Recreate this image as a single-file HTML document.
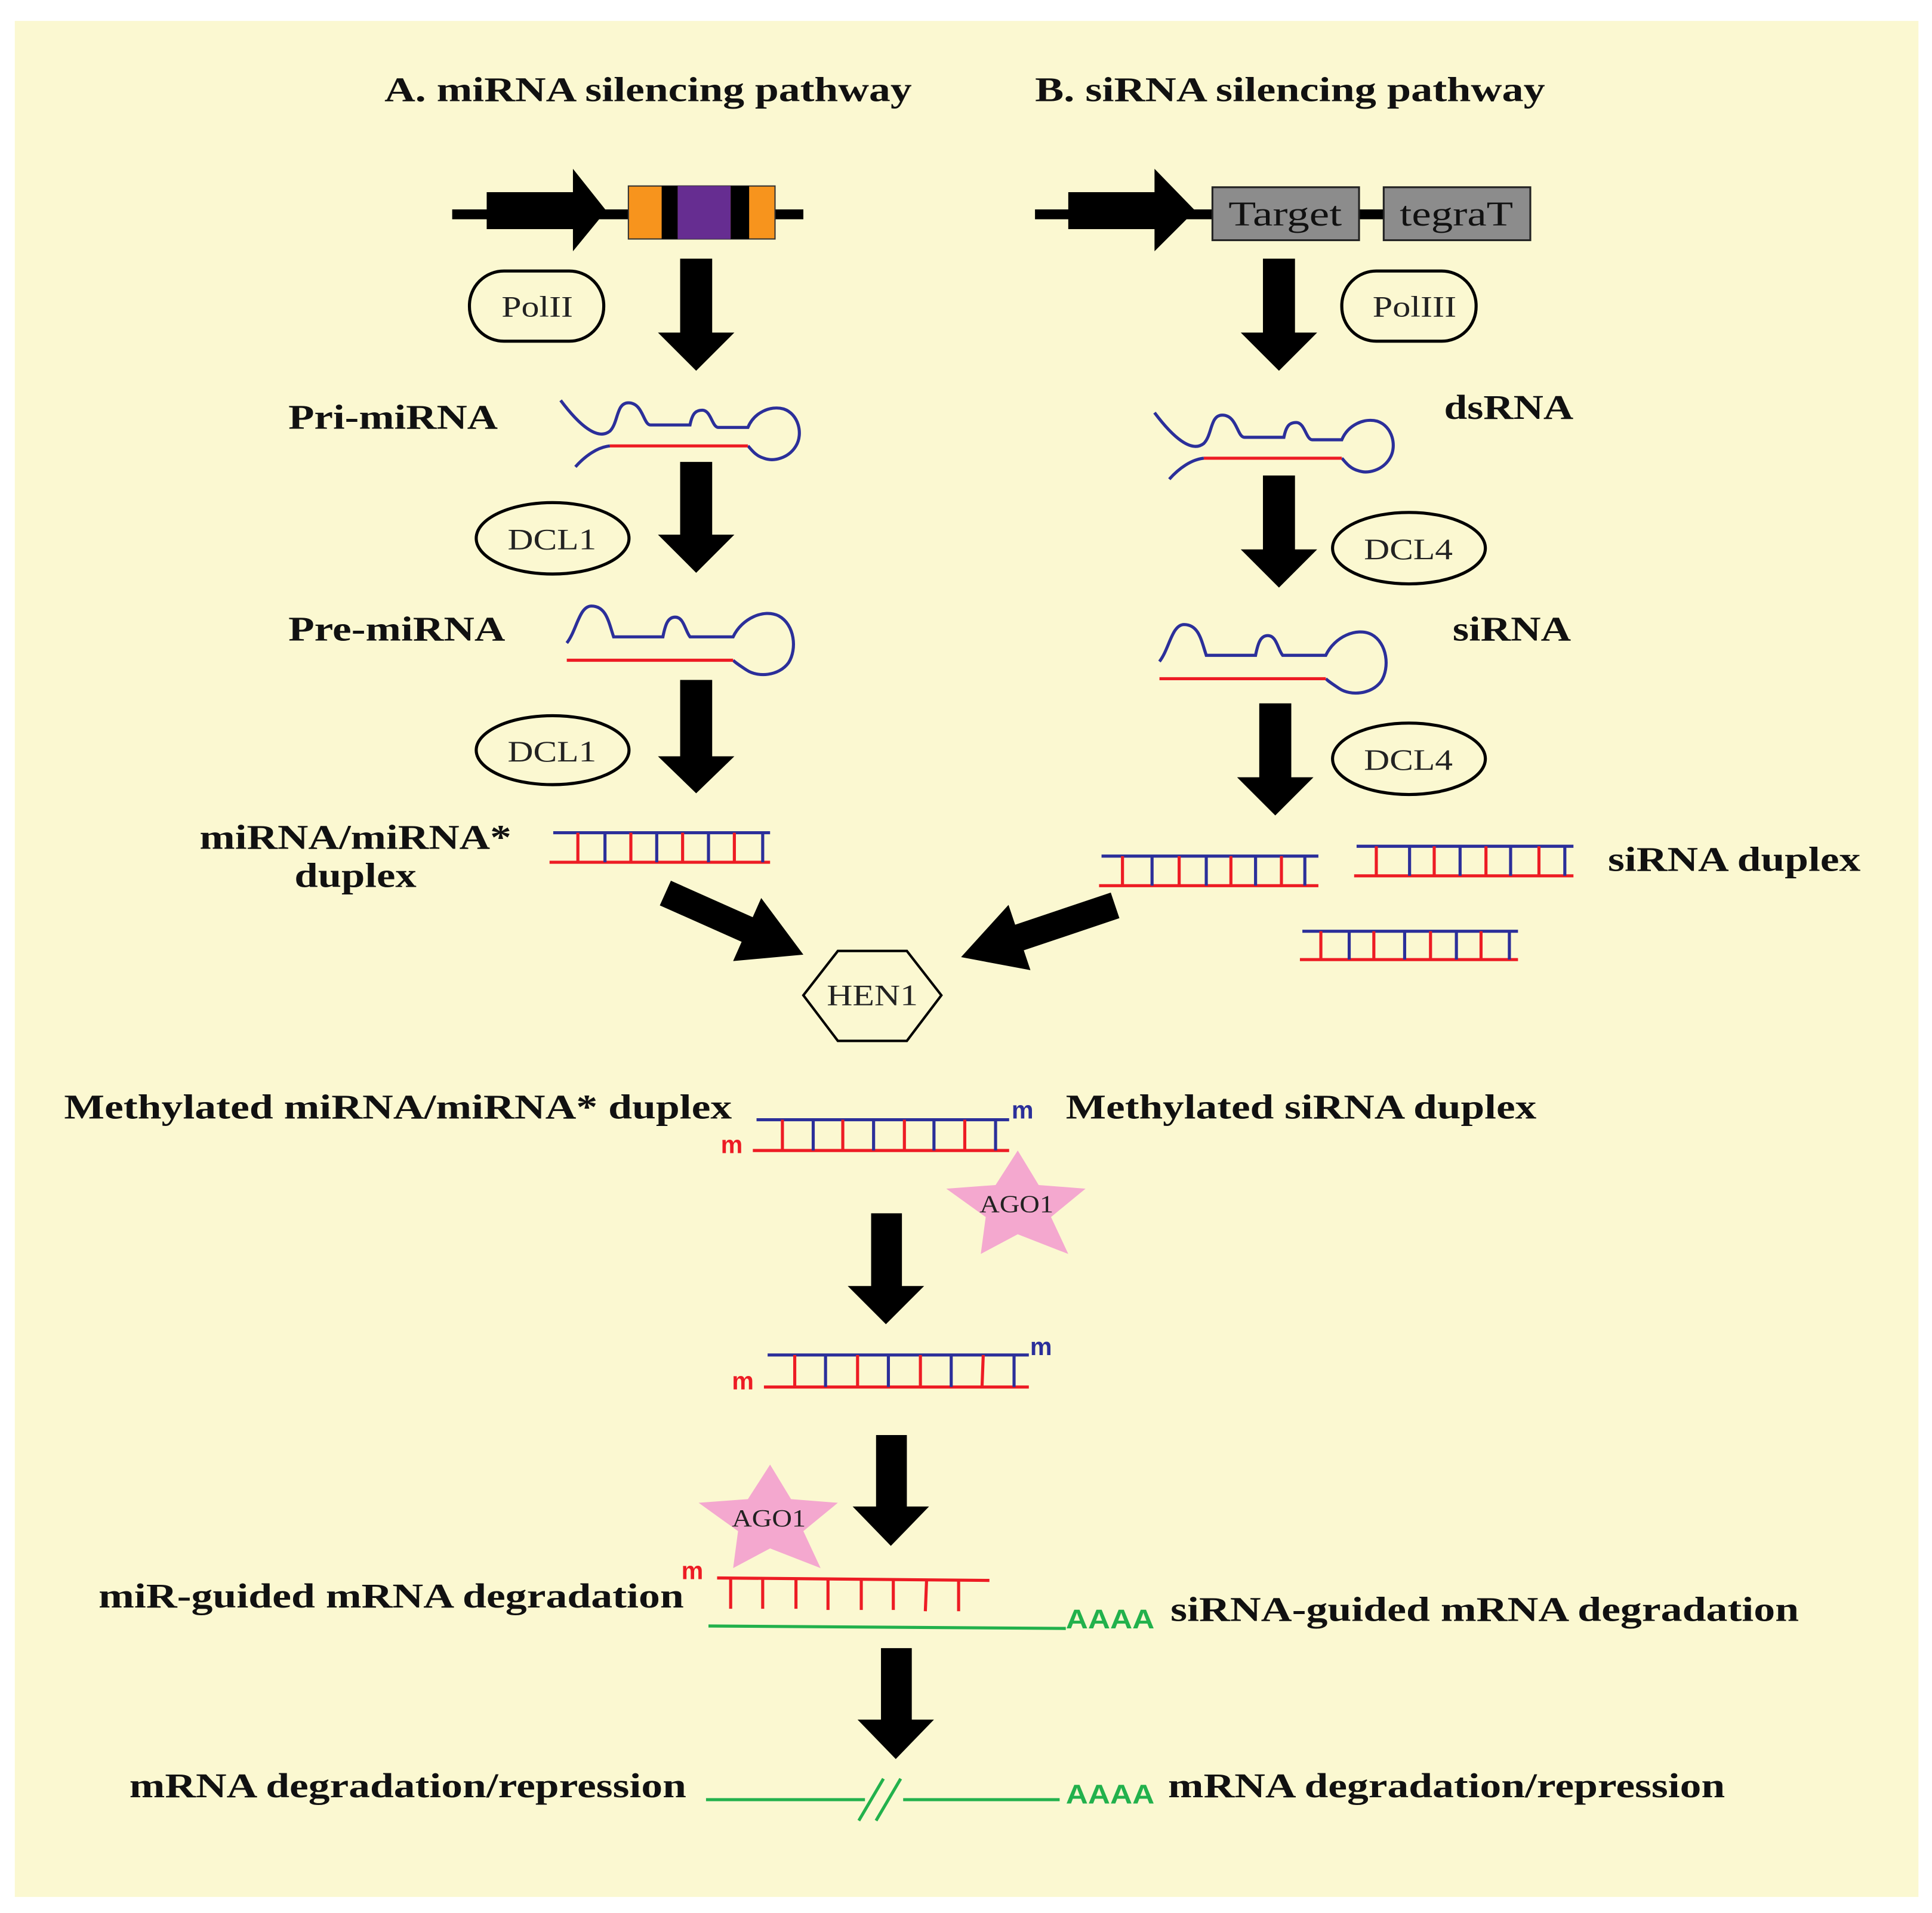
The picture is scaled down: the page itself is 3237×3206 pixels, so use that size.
<!DOCTYPE html>
<html><head><meta charset="utf-8"><style>
html,body{margin:0;padding:0;background:#fff}
svg{display:block}
text{font-family:"Liberation Serif",serif}
.b{font-weight:bold;font-size:28px;fill:#111}
.n{font-size:24px;fill:#222}
.s text{font-family:"Liberation Sans",sans-serif;font-weight:bold}
</style></head><body>
<svg width="3237" height="3206" viewBox="0 0 1568 1553" preserveAspectRatio="none" xmlns="http://www.w3.org/2000/svg">
<rect x="0" y="0" width="1568" height="1553" fill="#fff"/>
<rect x="12" y="17" width="1545" height="1523" fill="#FBF8D1"/>

<text class="b" x="312" y="82" textLength="428" lengthAdjust="spacingAndGlyphs">A. miRNA silencing pathway</text>
<text class="b" x="840" y="82" textLength="414" lengthAdjust="spacingAndGlyphs">B. siRNA silencing pathway</text>

<rect x="367" y="170" width="285" height="8" fill="#000"/>
<rect x="395" y="156" width="72" height="30" fill="#000"/>
<polygon points="465,137 492,171 465,204" fill="#000"/>
<rect x="510" y="151" width="119" height="43" fill="#F7941D" stroke="#333" stroke-width="1"/>
<rect x="537" y="151" width="13" height="43" fill="#000"/>
<rect x="550" y="151" width="43" height="43" fill="#662D91"/>
<rect x="593" y="151" width="15" height="43" fill="#000"/>

<rect x="840" y="170" width="300" height="8" fill="#000"/>
<rect x="867" y="156" width="72" height="30" fill="#000"/>
<polygon points="937,137 970,171 937,204" fill="#000"/>
<rect x="984" y="152" width="119" height="43" fill="#8C8C8C" stroke="#222" stroke-width="1.5"/>
<rect x="1123" y="152" width="119" height="43" fill="#8C8C8C" stroke="#222" stroke-width="1.5"/>
<text x="1043" y="183" font-size="28" text-anchor="middle" fill="#111" textLength="92" lengthAdjust="spacingAndGlyphs">Target</text>
<text x="1182" y="183" font-size="28" text-anchor="middle" fill="#111" textLength="92" lengthAdjust="spacingAndGlyphs">tegraT</text>

<g fill="#000">
<polygon points="552,210 578,210 578,270 596,270 565,301 534,270 552,270"/>
<polygon points="552,375 578,375 578,434 596,434 565,465 534,434 552,434"/>
<polygon points="552,552 578,552 578,614 596,614 565,644 534,614 552,614"/>
<polygon points="1025,210 1051,210 1051,270 1069,270 1038,301 1007,270 1025,270"/>
<polygon points="1025,386 1051,386 1051,446 1069,446 1038,477 1007,446 1025,446"/>
<polygon points="1022,571 1048,571 1048,631 1066,631 1035,662 1004,631 1022,631"/>
<polygon points="707,985 732,985 732,1044 750,1044 719,1075 688,1044 707,1044"/>
<polygon points="711,1165 736,1165 736,1223 754,1223 723,1255 692,1223 711,1223"/>
<polygon points="715,1338 740,1338 740,1396 758,1396 727,1428 696,1396 715,1396"/>
<polygon points="544.5,715 610.9,744.6 617.8,729 652,775 595,780.2 601.9,764.6 535.5,735"/>
<polygon points="901.5,724.6 823.9,750.7 818.5,734.6 780,777 836.3,787.6 830.9,771.5 908.5,745.4"/>
</g>

<g fill="none" stroke="#000" stroke-width="2.5">
<rect x="381" y="220" width="109" height="57" rx="28"/>
<ellipse cx="448.5" cy="437" rx="62" ry="29"/>
<ellipse cx="448.5" cy="609" rx="62" ry="28"/>
<rect x="1089" y="220" width="109" height="57" rx="28"/>
<ellipse cx="1143.5" cy="445" rx="62" ry="29"/>
<ellipse cx="1143.5" cy="616" rx="62" ry="29"/>
<polygon points="652,808 680,772 736,772 764,808 736,845 680,845" stroke-width="2"/>
</g>
<text class="n" x="436" y="257" text-anchor="middle" textLength="58" lengthAdjust="spacingAndGlyphs">PolII</text>
<text class="n" x="448" y="446" text-anchor="middle" textLength="72" lengthAdjust="spacingAndGlyphs">DCL1</text>
<text class="n" x="448" y="618" text-anchor="middle" textLength="72" lengthAdjust="spacingAndGlyphs">DCL1</text>
<text class="n" x="1148" y="257" text-anchor="middle" textLength="68" lengthAdjust="spacingAndGlyphs">PolIII</text>
<text class="n" x="1143" y="454" text-anchor="middle" textLength="72" lengthAdjust="spacingAndGlyphs">DCL4</text>
<text class="n" x="1143" y="625" text-anchor="middle" textLength="72" lengthAdjust="spacingAndGlyphs">DCL4</text>
<text class="n" x="708" y="816" text-anchor="middle" font-size="22" textLength="74" lengthAdjust="spacingAndGlyphs">HEN1</text>

<text class="b" x="234" y="348" textLength="170" lengthAdjust="spacingAndGlyphs">Pri-miRNA</text>
<text class="b" x="234" y="520" textLength="176" lengthAdjust="spacingAndGlyphs">Pre-miRNA</text>
<text class="b" x="162" y="689" textLength="253" lengthAdjust="spacingAndGlyphs">miRNA/miRNA*</text>
<text class="b" x="239" y="720" textLength="99" lengthAdjust="spacingAndGlyphs">duplex</text>
<text class="b" x="1172" y="340" textLength="105" lengthAdjust="spacingAndGlyphs">dsRNA</text>
<text class="b" x="1179" y="520" textLength="96" lengthAdjust="spacingAndGlyphs">siRNA</text>
<text class="b" x="1305" y="707" textLength="205" lengthAdjust="spacingAndGlyphs">siRNA duplex</text>
<text class="b" x="52" y="908" textLength="542" lengthAdjust="spacingAndGlyphs">Methylated miRNA/miRNA* duplex</text>
<text class="b" x="865" y="908" textLength="382" lengthAdjust="spacingAndGlyphs">Methylated siRNA duplex</text>
<text class="b" x="80" y="1305" textLength="475" lengthAdjust="spacingAndGlyphs">miR-guided mRNA degradation</text>
<text class="b" x="950" y="1316" textLength="510" lengthAdjust="spacingAndGlyphs">siRNA-guided mRNA degradation</text>
<text class="b" x="105" y="1459" textLength="452" lengthAdjust="spacingAndGlyphs">mRNA degradation/repression</text>
<text class="b" x="948" y="1459" textLength="452" lengthAdjust="spacingAndGlyphs">mRNA degradation/repression</text>

<g fill="none" stroke-width="2.5">
<path d="M455,325 C470,345 485,358 495,350 C502,343 500,327 510,327 C522,327 522,345 528,345 L560,345 C562,335 565,333 570,333 C577,333 578,347 583,347 L607,347 C612,335 625,329 636,332 C648,336 652,352 646,362 C640,372 628,375 620,372 C613,370 610,365 607,362" stroke="#2B2F9A"/>
<path d="M467,379 C475,370 485,363 495,362" stroke="#2B2F9A"/>
<path d="M495,362 L607,362" stroke="#ED1C24"/>
</g>
<g transform="translate(482,10)" fill="none" stroke-width="2.5">
<path d="M455,325 C470,345 485,358 495,350 C502,343 500,327 510,327 C522,327 522,345 528,345 L560,345 C562,335 565,333 570,333 C577,333 578,347 583,347 L607,347 C612,335 625,329 636,332 C648,336 652,352 646,362 C640,372 628,375 620,372 C613,370 610,365 607,362" stroke="#2B2F9A"/>
<path d="M467,379 C475,370 485,363 495,362" stroke="#2B2F9A"/>
<path d="M495,362 L607,362" stroke="#ED1C24"/>
</g>
<g fill="none" stroke-width="2.5">
<path d="M460,522 C468,512 470,492 480,492 C492,492 494,505 498,517 L538,517 C540,507 542,501 548,501 C555,501 556,512 560,517 L595,517 C602,502 620,494 632,500 C645,507 647,527 640,538 C632,549 615,550 606,544 C600,540 597,538 595,536" stroke="#2B2F9A"/>
<path d="M460,536 L595,536" stroke="#ED1C24"/>
</g>
<g transform="translate(481,15)" fill="none" stroke-width="2.5">
<path d="M460,522 C468,512 470,492 480,492 C492,492 494,505 498,517 L538,517 C540,507 542,501 548,501 C555,501 556,512 560,517 L595,517 C602,502 620,494 632,500 C645,507 647,527 640,538 C632,549 615,550 606,544 C600,540 597,538 595,536" stroke="#2B2F9A"/>
<path d="M460,536 L595,536" stroke="#ED1C24"/>
</g>

<g stroke-width="2.5">
<line x1="449" y1="676" x2="625" y2="676" stroke="#2B2F9A"/>
<line x1="446" y1="700" x2="625" y2="700" stroke="#ED1C24"/>
<g stroke="#ED1C24"><line x1="469" y1="676" x2="469" y2="700"/><line x1="512" y1="676" x2="512" y2="700"/><line x1="554" y1="676" x2="554" y2="700"/><line x1="596" y1="676" x2="596" y2="700"/></g>
<g stroke="#2B2F9A"><line x1="491" y1="676" x2="491" y2="700"/><line x1="533" y1="676" x2="533" y2="700"/><line x1="575" y1="676" x2="575" y2="700"/><line x1="619" y1="676" x2="619" y2="700"/></g>
<line x1="894" y1="695" x2="1070" y2="695" stroke="#2B2F9A"/>
<line x1="892" y1="719" x2="1070" y2="719" stroke="#ED1C24"/>
<g stroke="#ED1C24"><line x1="911" y1="695" x2="911" y2="719"/><line x1="957" y1="695" x2="957" y2="719"/><line x1="999" y1="695" x2="999" y2="719"/><line x1="1040" y1="695" x2="1040" y2="719"/></g>
<g stroke="#2B2F9A"><line x1="935" y1="695" x2="935" y2="719"/><line x1="979" y1="695" x2="979" y2="719"/><line x1="1019" y1="695" x2="1019" y2="719"/><line x1="1059" y1="695" x2="1059" y2="719"/></g>
<line x1="1101" y1="687" x2="1277" y2="687" stroke="#2B2F9A"/>
<line x1="1099" y1="711" x2="1277" y2="711" stroke="#ED1C24"/>
<g stroke="#ED1C24"><line x1="1117" y1="687" x2="1117" y2="711"/><line x1="1164" y1="687" x2="1164" y2="711"/><line x1="1206" y1="687" x2="1206" y2="711"/><line x1="1249" y1="687" x2="1249" y2="711"/></g>
<g stroke="#2B2F9A"><line x1="1144" y1="687" x2="1144" y2="711"/><line x1="1185" y1="687" x2="1185" y2="711"/><line x1="1226" y1="687" x2="1226" y2="711"/><line x1="1270" y1="687" x2="1270" y2="711"/></g>
<line x1="1057" y1="756" x2="1232" y2="756" stroke="#2B2F9A"/>
<line x1="1055" y1="779" x2="1232" y2="779" stroke="#ED1C24"/>
<g stroke="#ED1C24"><line x1="1072" y1="756" x2="1072" y2="779"/><line x1="1115" y1="756" x2="1115" y2="779"/><line x1="1161" y1="756" x2="1161" y2="779"/><line x1="1202" y1="756" x2="1202" y2="779"/></g>
<g stroke="#2B2F9A"><line x1="1095" y1="756" x2="1095" y2="779"/><line x1="1140" y1="756" x2="1140" y2="779"/><line x1="1182" y1="756" x2="1182" y2="779"/><line x1="1225" y1="756" x2="1225" y2="779"/></g>
<line x1="614" y1="909" x2="819" y2="909" stroke="#2B2F9A"/>
<line x1="611" y1="934" x2="819" y2="934" stroke="#ED1C24"/>
<g stroke="#ED1C24"><line x1="635" y1="909" x2="635" y2="934"/><line x1="684" y1="909" x2="684" y2="934"/><line x1="734" y1="909" x2="734" y2="934"/><line x1="783" y1="909" x2="783" y2="934"/></g>
<g stroke="#2B2F9A"><line x1="660" y1="909" x2="660" y2="934"/><line x1="709" y1="909" x2="709" y2="934"/><line x1="758" y1="909" x2="758" y2="934"/><line x1="808" y1="909" x2="808" y2="934"/></g>
<line x1="623" y1="1100" x2="835" y2="1100" stroke="#2B2F9A"/>
<line x1="620" y1="1126" x2="835" y2="1126" stroke="#ED1C24"/>
<g stroke="#ED1C24"><line x1="645" y1="1100" x2="645" y2="1126"/><line x1="696" y1="1100" x2="696" y2="1126"/><line x1="747" y1="1100" x2="747" y2="1126"/><line x1="798" y1="1100" x2="797" y2="1126"/></g>
<g stroke="#2B2F9A"><line x1="670" y1="1100" x2="670" y2="1126"/><line x1="721" y1="1100" x2="721" y2="1126"/><line x1="772" y1="1100" x2="772" y2="1126"/><line x1="823" y1="1100" x2="823" y2="1126"/></g>
<line x1="582" y1="1281" x2="803" y2="1283" stroke="#ED1C24"/>
<g stroke="#ED1C24"><line x1="593" y1="1281" x2="593" y2="1306"/><line x1="619" y1="1281" x2="619" y2="1306"/><line x1="646" y1="1282" x2="646" y2="1306"/><line x1="672" y1="1282" x2="672" y2="1307"/><line x1="699" y1="1282" x2="699" y2="1307"/><line x1="725" y1="1282" x2="725" y2="1307"/><line x1="752" y1="1283" x2="751" y2="1308"/><line x1="778" y1="1283" x2="778" y2="1308"/></g>
<line x1="575" y1="1320" x2="865" y2="1322" stroke="#22B14C"/>
<line x1="573" y1="1461" x2="702" y2="1461" stroke="#22B14C"/>
<line x1="733" y1="1461" x2="860" y2="1461" stroke="#22B14C"/>
<line x1="697" y1="1478" x2="717" y2="1444" stroke="#22B14C"/>
<line x1="711" y1="1478" x2="731" y2="1444" stroke="#22B14C"/>
</g>
<g class="s">
<text x="821" y="908" font-size="20" fill="#2B2F9A">m</text>
<text x="585" y="936" font-size="20" fill="#ED1C24">m</text>
<text x="836" y="1100" font-size="20" fill="#2B2F9A">m</text>
<text x="594" y="1128" font-size="20" fill="#ED1C24">m</text>
<text x="553" y="1282" font-size="20" fill="#ED1C24">m</text>
<text x="865" y="1322" font-size="22" fill="#22B14C" textLength="72" lengthAdjust="spacingAndGlyphs">AAAA</text>
<text x="865" y="1464" font-size="22" fill="#22B14C" textLength="72" lengthAdjust="spacingAndGlyphs">AAAA</text>
</g>

<g>
<polygon points="826,934 843,962 881,965 853,988 867,1018 826,1002 796,1018 800,988 768,965 808,962" fill="#F4A8CF"/>
<text x="825" y="984" font-size="20" text-anchor="middle" fill="#222" textLength="60" lengthAdjust="spacingAndGlyphs">AGO1</text>
</g>
<g transform="translate(-201,255)">
<polygon points="826,934 843,962 881,965 853,988 867,1018 826,1002 796,1018 800,988 768,965 808,962" fill="#F4A8CF"/>
<text x="825" y="984" font-size="20" text-anchor="middle" fill="#222" textLength="60" lengthAdjust="spacingAndGlyphs">AGO1</text>
</g>
</svg>
</body></html>
